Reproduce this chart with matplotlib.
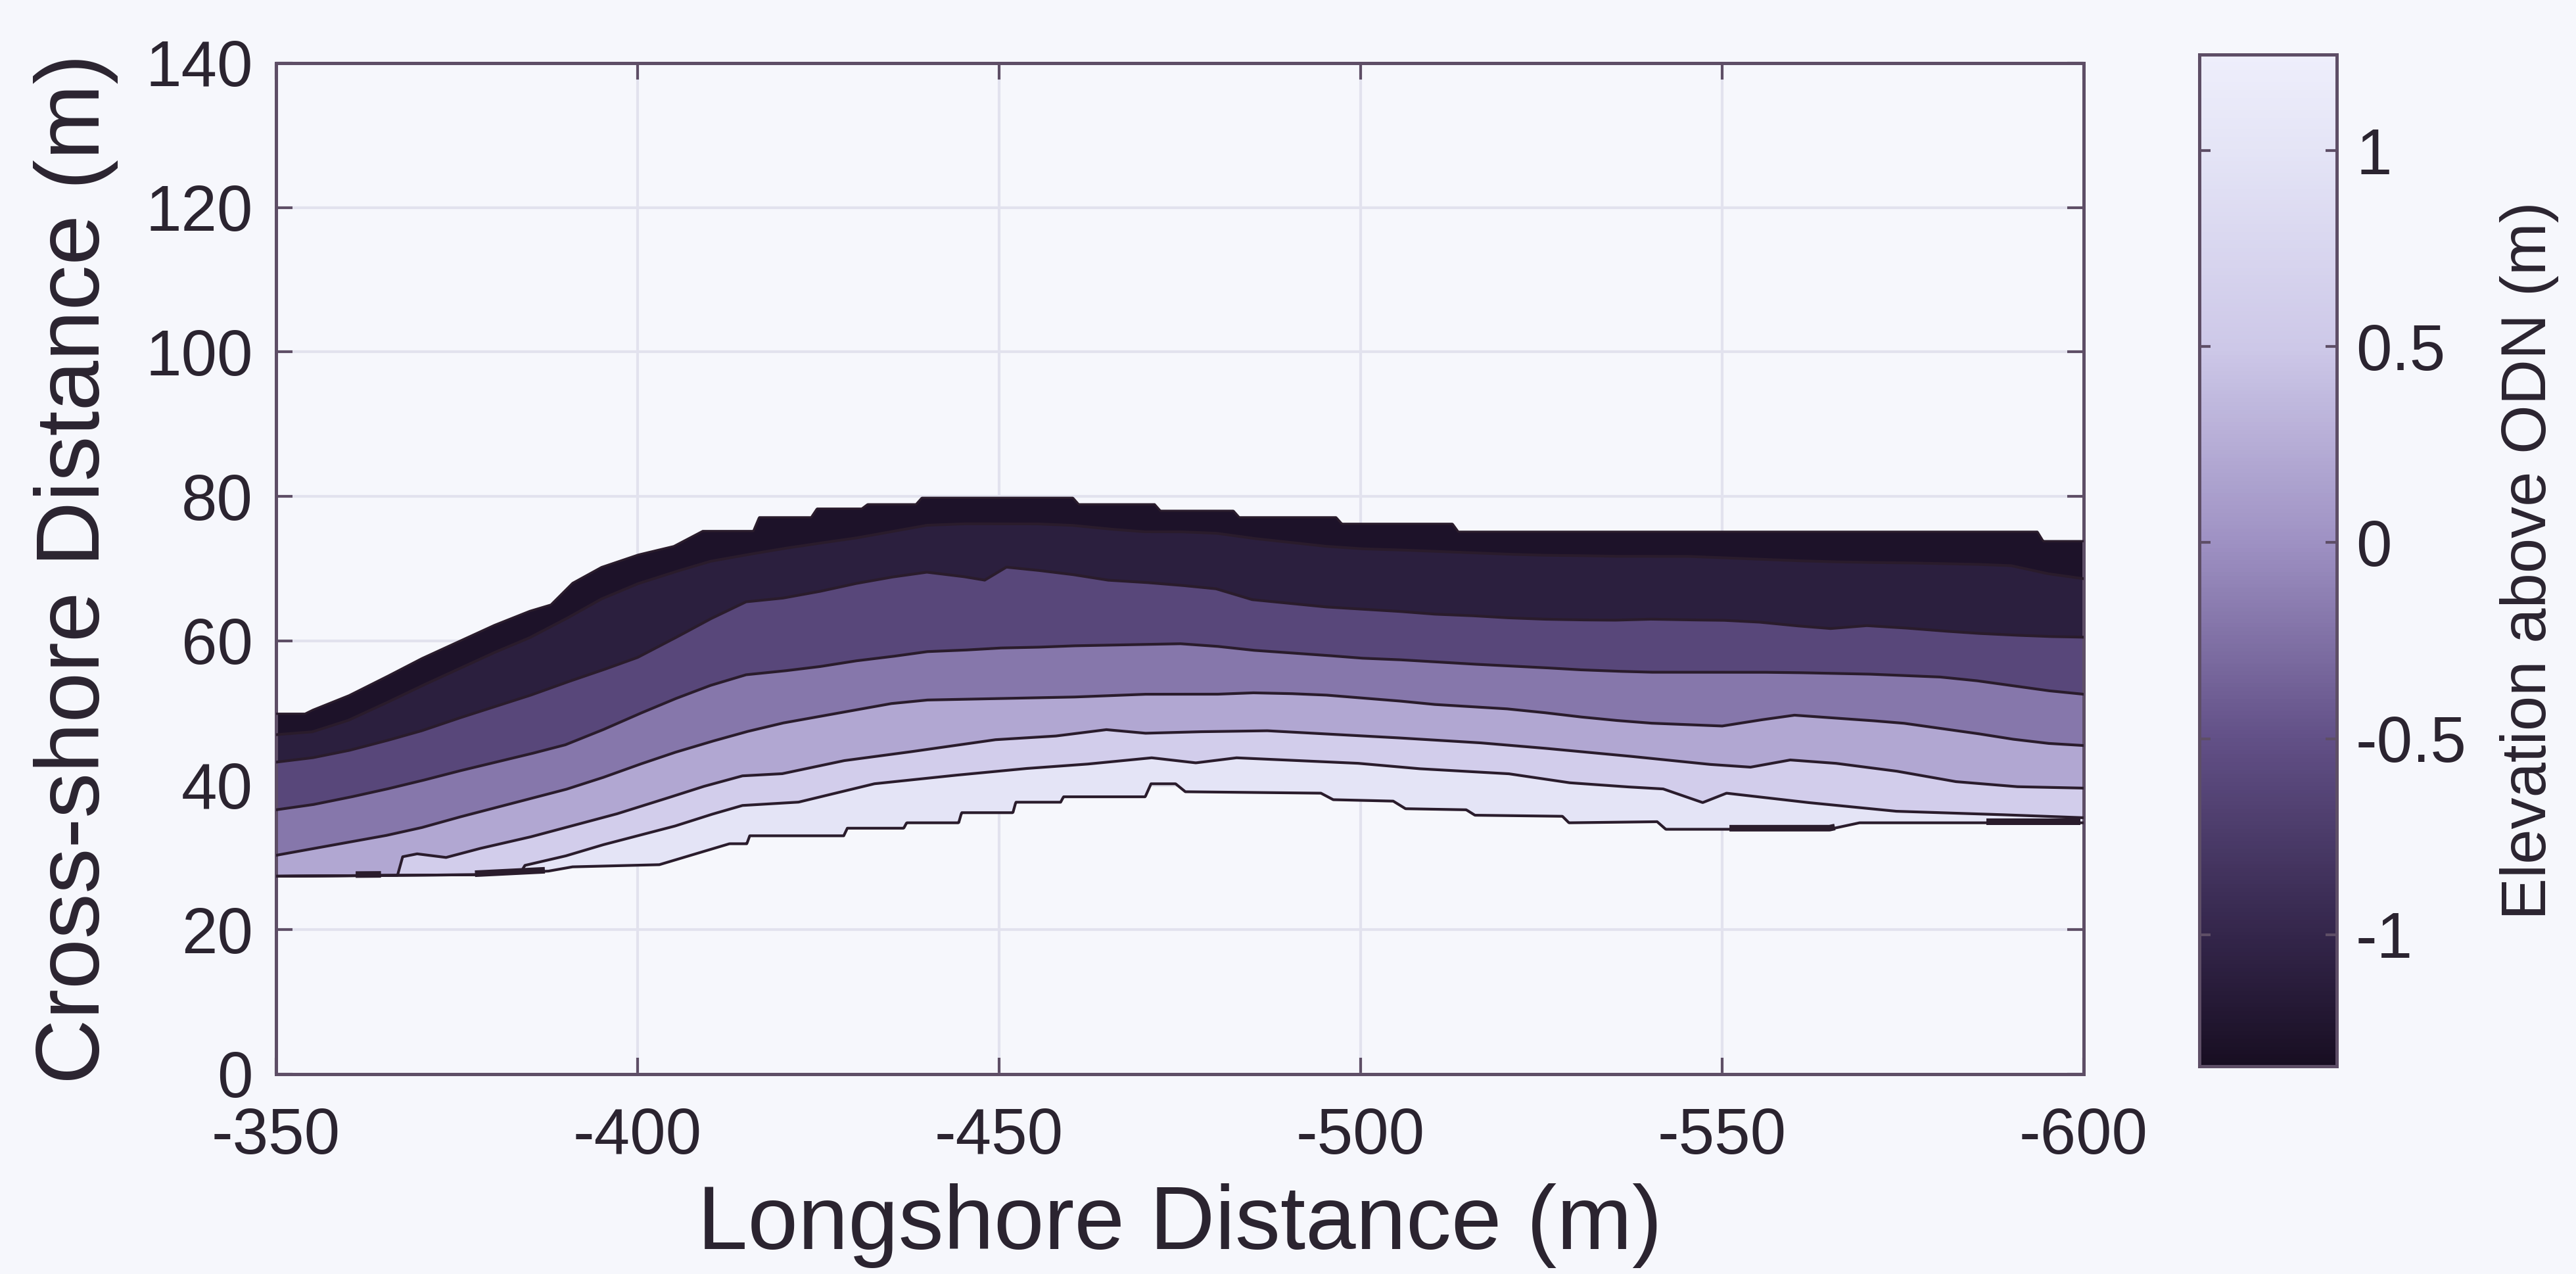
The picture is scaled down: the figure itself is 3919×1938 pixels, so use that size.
import numpy as np
import matplotlib
matplotlib.use("Agg")
import matplotlib.pyplot as plt
from matplotlib.colors import LinearSegmentedColormap, Normalize
from matplotlib.cm import ScalarMappable

plt.rcParams['font.family'] = ['Liberation Sans', 'DejaVu Sans']
plt.rcParams['axes.unicode_minus'] = False

# ---------------- data ----------------
# colour scale limits and contour levels (m above ODN)
z_min, z_max = -1.336, 1.246
levels = [-1.336, -1.2, -0.8, -0.4, 0.0, 0.4, 0.8, 1.2]
# value used to colour each filled band (one per band, top to bottom)
band_values = [-1.27, -1.1, -0.6, -0.2, 0.2, 0.6, 1.0]

# seaward (top) edge of the surveyed area
top_x = [-350, -354, -355, -360, -365, -370, -375, -380, -385, -388, -391, -395,
         -400, -405, -409, -416.0, -416.8, -424.0, -424.8, -431.0, -431.8,
         -438.5, -439.3, -460.2, -461.0, -471.5, -472.3, -482.4, -483.2,
         -496.6, -497.4, -512.7, -513.5, -593.6, -594.4, -600]
top_y = [49.9, 49.9, 50.4, 52.4, 54.9, 57.5, 59.8, 62.1, 64.1, 65.0, 68.0, 70.2,
         71.9, 73.1, 75.2, 75.2, 77.1, 77.1, 78.3, 78.3, 78.9,
         78.9, 79.8, 79.8, 78.9, 78.9, 78.0, 78.0, 77.1,
         77.1, 76.2, 76.2, 75.1, 75.1, 73.8, 73.8]

# landward (bottom) edge of the surveyed area
bot_x = [-350, -377.5, -387.6, -391, -403, -408, -412.7, -415.1, -415.5, -428.5,
         -429, -436.8, -437.2, -444.4, -444.8, -451.9, -452.3, -458.5, -458.9,
         -470.2, -471, -474.4, -475.75, -494.5, -496.2, -504.5, -506.2, -514.6,
         -515.8, -527.9, -528.8, -541.0, -542.2, -564.8, -569.0, -600]
bot_y = [27.4, 27.6, 28.1, 28.7, 29.0, 30.5, 31.9, 31.9, 33.0, 33.0,
         34.05, 34.05, 34.8, 34.8, 36.2, 36.2, 37.65, 37.65, 38.4,
         38.4, 40.2, 40.2, 39.1, 38.9, 38.0, 37.8, 36.75, 36.6,
         35.85, 35.7, 34.8, 34.95, 33.9, 33.9, 34.8, 34.8]

# thin dark slivers lying along the landward edge (longshore start, end)
sliver_start = [-361.0, -377.5, -551.0, -586.5]
sliver_end = [-364.5, -387.2, -565.6, -599.6]

# contour lines (cross-shore position of each level)
grid5 = [-350, -355, -360, -365, -370, -375, -380, -385, -390, -395, -400, -405,
         -410, -415, -420, -425, -430, -435, -440, -445, -450, -455, -460, -465,
         -470, -475, -480, -485, -490, -495, -500, -505, -510, -515, -520, -525,
         -530, -535, -540, -545, -550, -555, -560, -565, -570, -575, -580, -585,
         -590, -595, -600]

c1_x = grid5
c1_y = [47.0, 47.4, 49.0, 51.3, 53.7, 56.0, 58.3, 60.4, 63.0, 65.8, 67.9, 69.5,
        71.0, 71.9, 72.75, 73.5, 74.2, 75.1, 76.0, 76.2, 76.2, 76.2, 76.0, 75.5,
        75.1, 75.1, 74.9, 74.2, 73.65, 73.1, 72.75, 72.6, 72.4, 72.2, 72.0, 71.85,
        71.8, 71.7, 71.7, 71.7, 71.5, 71.3, 71.1, 70.95, 70.85, 70.8, 70.7, 70.6,
        70.4, 69.3, 68.6]

c2_x = [-350, -355, -360, -365, -370, -375, -380, -385, -390, -395, -400, -405,
        -410, -415, -420, -425, -430, -435, -440, -445, -448, -451, -455, -460,
        -465, -470, -475, -480, -485, -490, -495, -500, -505, -510, -515, -520,
        -525, -530, -535, -540, -545, -550, -555, -560, -565, -570, -575, -580,
        -585, -590, -595, -600]
c2_y = [43.2, 43.8, 44.8, 46.1, 47.5, 49.2, 50.8, 52.4, 54.2, 55.9, 57.7, 60.3,
        63.0, 65.4, 65.9, 66.8, 67.9, 68.8, 69.5, 68.9, 68.4, 70.2, 69.8, 69.2,
        68.4, 68.1, 67.7, 67.2, 65.7, 65.2, 64.7, 64.4, 64.1, 63.7, 63.5, 63.2,
        63.0, 62.9, 62.85, 63.0, 62.9, 62.85, 62.6, 62.1, 61.7, 62.1, 61.8, 61.4,
        61.05, 60.8, 60.6, 60.5]

c3_x = grid5
c3_y = [36.6, 37.3, 38.3, 39.4, 40.6, 41.9, 43.1, 44.3, 45.6, 47.6, 49.8, 51.9,
        53.8, 55.3, 55.8, 56.4, 57.2, 57.8, 58.5, 58.7, 59.0, 59.1, 59.3, 59.4,
        59.5, 59.6, 59.25, 58.7, 58.35, 58.0, 57.6, 57.4, 57.1, 56.8, 56.55, 56.3,
        56.0, 55.8, 55.65, 55.65, 55.65, 55.65, 55.6, 55.5, 55.4, 55.2, 55.0, 54.5,
        53.8, 53.1, 52.6]

c4_x = grid5
c4_y = [30.3, 31.2, 32.1, 33.0, 34.1, 35.5, 36.8, 38.1, 39.4, 41.0, 42.8, 44.5,
        46.0, 47.4, 48.6, 49.5, 50.4, 51.3, 51.8, 51.9, 52.0, 52.1, 52.2, 52.4,
        52.6, 52.6, 52.6, 52.8, 52.7, 52.5, 52.1, 51.7, 51.2, 50.9, 50.6, 50.1,
        49.5, 49.0, 48.6, 48.4, 48.2, 49.0, 49.7, 49.35, 49.0, 48.6, 47.9, 47.2,
        46.4, 45.8, 45.5]

c5_x = [-350, -366.5, -367.5, -369.5, -373.5, -378, -385, -391, -397, -403.4, -409,
        -414.5, -420, -428.5, -436.8, -449.4, -457.7, -464.8, -470.2, -477.2,
        -487.0, -503.7, -516.2, -524.6, -536.4, -548.1, -553.9, -559.4, -565.6,
        -574.0, -582.3, -590.7, -600]
c5_y = [26.0, 26.5, 30.1, 30.5, 30.0, 31.2, 32.8, 34.4, 36.0, 38.0, 39.8,
        41.3, 41.6, 43.4, 44.5, 46.3, 46.8, 47.7, 47.2, 47.4,
        47.55, 46.65, 45.9, 45.2, 44.1, 42.9, 42.5, 43.5, 43.05,
        41.97, 40.5, 39.8, 39.6]

c6_x = [-350, -383, -384.4, -390, -395, -400, -405, -410, -414.5, -422.2, -432.7,
        -443.1, -453.5, -461.9, -471.1, -477.2, -482.8, -499.5, -507.9, -520.4,
        -528.8, -536.4, -541.8, -547.3, -550.6, -561.4, -574.0, -586.5, -594.8, -600]
c6_y = [26.0, 26.5, 28.9, 30.2, 31.7, 33.0, 34.3, 35.9, 37.2, 37.65, 40.2,
        41.3, 42.3, 42.9, 43.8, 43.1, 43.8, 43.05, 42.3, 41.6,
        40.35, 39.8, 39.5, 37.6, 38.9, 37.65, 36.4, 36.0, 35.7, 35.5]

contours_x = [c1_x, c2_x, c3_x, c4_x, c5_x, c6_x]
contours_y = [c1_y, c2_y, c3_y, c4_y, c5_y, c6_y]

x_ticks = [-350, -400, -450, -500, -550, -600]
y_ticks = [0, 20, 40, 60, 80, 100, 120, 140]
cbar_ticks = [-1, -0.5, 0, 0.5, 1]
cbar_ticklabels = ['-1', '-0.5', '0', '0.5', '1']

# ---------------- style ----------------
bg = '#f6f7fc'
ink = '#2b2430'
spine_c = '#5e4e66'
line_c = '#2a1c2c'

cmap_vals = [-1.336, -1.0, -0.5, 0.0, 0.5, 1.0, 1.246]
cmap_cols = [(24, 14, 34), (52, 38, 75), (98, 80, 135), (158, 145, 195),
             (205, 200, 232), (228, 228, 246), (238, 238, 251)]
norm = Normalize(vmin=z_min, vmax=z_max)
cmap = LinearSegmentedColormap.from_list(
    'odn', [(float(norm(v)), tuple(c / 255 for c in col)) for v, col in zip(cmap_vals, cmap_cols)])

fig = plt.figure(figsize=(3919 / 300, 1938 / 300), dpi=300)
fig.patch.set_facecolor(bg)
ax = fig.add_axes([0.1072, 0.1569, 0.7017, 0.7936])
ax.set_facecolor(bg)
cax = fig.add_axes([0.8538, 0.1631, 0.0533, 0.7943])

# fine longshore grid used to render the filled bands between read contour lines
xf = np.linspace(-350, -600, 3001)


def on_grid(xs, ys):
    return np.interp(-xf, -np.asarray(xs, float), np.asarray(ys, float))


top = on_grid(top_x, top_y)
bot = on_grid(bot_x, bot_y)
bounds = [top] + [np.clip(on_grid(cx, cy), bot, top) for cx, cy in zip(contours_x, contours_y)] + [bot]

for k in range(len(bounds) - 1):
    ax.fill_between(xf, bounds[k + 1], bounds[k], color=cmap(norm(band_values[k])),
                    linewidth=0, zorder=2)
for k in range(1, len(bounds)):
    ax.plot(xf, bounds[k], color=line_c, lw=1.0, zorder=3, solid_joinstyle='round')
ax.plot(xf, top, color=line_c, lw=0.8, zorder=3)

# slivers along the landward edge
for s0, s1 in zip(sliver_start, sliver_end):
    m = (xf <= s0) & (xf >= s1)
    ax.plot(xf[m], bot[m] + 0.15, color=line_c, lw=2.4, zorder=3, solid_capstyle='butt')

ax.set_xlim(-350, -600)
ax.set_ylim(0, 140)
ax.set_xticks(x_ticks)
ax.set_yticks(y_ticks)
ax.grid(True, color='#e2e2ee', linewidth=1.0, zorder=0)
ax.set_axisbelow(True)
ax.tick_params(direction='in', length=6, width=1.0, color=spine_c, labelsize=23.5,
               labelcolor=ink, top=True, right=True)
ax.tick_params(axis='x', pad=12)
ax.tick_params(axis='y', pad=8.5)
for s in ax.spines.values():
    s.set_color(spine_c)
    s.set_linewidth(1.2)
ax.set_xlabel('Longshore Distance (m)', fontsize=33, color=ink, labelpad=6)
ax.set_ylabel('Cross-shore Distance (m)', fontsize=33, color=ink, labelpad=10)

sm = ScalarMappable(norm=norm, cmap=cmap)
cb = fig.colorbar(sm, cax=cax, ticks=cbar_ticks)
cb.ax.set_yticklabels(cbar_ticklabels)
cb.outline.set_edgecolor(spine_c)
cb.outline.set_linewidth(1.2)
cax.tick_params(direction='in', length=4, width=1.0, color=spine_c, labelsize=23.5,
                labelcolor=ink, left=True, right=True, pad=7)
cb.set_label('Elevation above ODN (m)', fontsize=23, color=ink, labelpad=12)

fig.savefig('out.png', dpi=300, facecolor=bg)
